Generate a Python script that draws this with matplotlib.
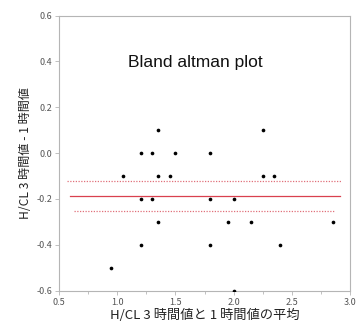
import matplotlib
matplotlib.use("Agg")
import matplotlib.pyplot as plt
from matplotlib.ticker import MultipleLocator

plt.rcParams['font.family'] = ['Noto Sans CJK JP', 'DejaVu Sans']

# Data: mean of two measurements (x) and difference (y)
mean_vals = [1.35, 2.25,
             1.2, 1.3, 1.5, 1.8,
             1.05, 1.35, 1.45, 2.25, 2.35,
             1.2, 1.3, 1.8, 2.0,
             1.35, 1.95, 2.15, 2.85,
             1.2, 1.8, 2.4,
             0.95,
             2.0]
diff_vals = [0.1, 0.1,
             0.0, 0.0, 0.0, 0.0,
             -0.1, -0.1, -0.1, -0.1, -0.1,
             -0.2, -0.2, -0.2, -0.2,
             -0.3, -0.3, -0.3, -0.3,
             -0.4, -0.4, -0.4,
             -0.5,
             -0.6]

bias = -0.187
upper_limit = -0.12
lower_limit = -0.252
bias_x = (0.595, 2.91)
upper_x = (0.565, 2.93)
lower_x = (0.63, 2.87)

x_ticks = [0.5, 1.0, 1.5, 2.0, 2.5, 3.0]
y_ticks = [-0.6, -0.4, -0.2, 0.0, 0.2, 0.4, 0.6]

fig = plt.figure(figsize=(3.58, 3.21), dpi=100)
ax = fig.add_axes([0.165, 0.0944, 0.813, 0.857])

line_col = '#d9404f'
ax.plot(bias_x, [bias, bias], color=line_col, lw=0.9)
ax.plot(upper_x, [upper_limit, upper_limit], color='#e0707a', lw=0.9, ls=(0, (1, 1.2)))
ax.plot(lower_x, [lower_limit, lower_limit], color='#e0707a', lw=0.9, ls=(0, (1, 1.2)))

ax.scatter(mean_vals, diff_vals, s=7, color='black', zorder=3, linewidths=0)

ax.set_xlim(0.5, 3.0)
ax.set_ylim(-0.6, 0.6)
ax.set_xticks(x_ticks)
ax.set_yticks(y_ticks)
ax.xaxis.set_minor_locator(MultipleLocator(0.25))
ax.set_xticklabels([f"{v:.1f}" for v in x_ticks])
ax.set_yticklabels([f"{v:.1f}" for v in y_ticks])

for sp in ax.spines.values():
    sp.set_color('#b5b5b5')
    sp.set_linewidth(0.8)
ax.tick_params(which='both', color='#b5b5b5', labelcolor='#555555', labelsize=6.5, length=3, width=0.6)
ax.tick_params(which='minor', length=2)
ax.tick_params(axis='y', pad=2)
ax.tick_params(axis='x', pad=2)

ax.text(1.67, 0.394, 'Bland altman plot', ha='center', va='center',
        fontsize=12.5, family=['Liberation Sans', 'DejaVu Sans'], color='#111111')

ax.set_xlabel('H/CL 3 時間値と 1 時間値の平均', fontsize=9.5, color='#222222', labelpad=2)
ax.set_ylabel('H/CL 3 時間値 - 1 時間値', fontsize=8.7, color='#222222', labelpad=3)

fig.savefig('out.png', dpi=100)
